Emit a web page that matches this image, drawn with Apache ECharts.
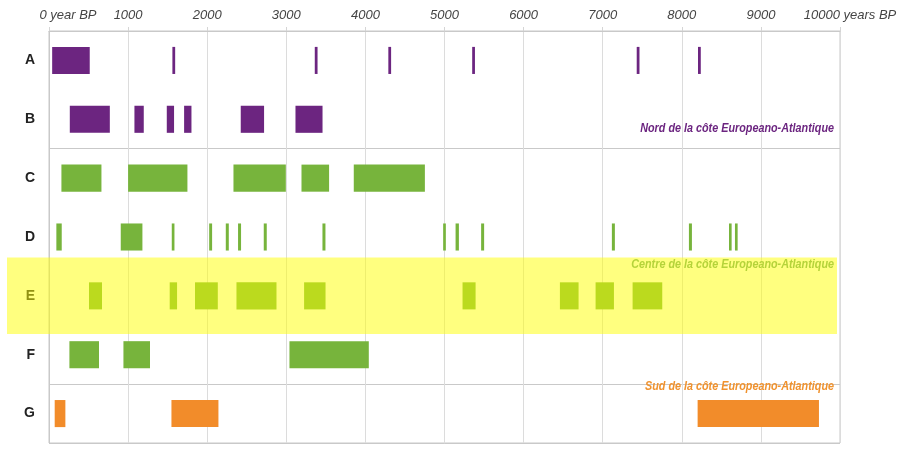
<!DOCTYPE html>
<html>
<head>
<meta charset="utf-8">
<script src="https://cdn.jsdelivr.net/npm/echarts@6/dist/echarts.min.js"></script>
<style>html,body{margin:0;padding:0;background:#fff}#c{width:904px;height:449px}</style>
</head>
<body>
<div id="c"></div>
<script>
// ---- data ----
var rows = ['A', 'B', 'C', 'D', 'E', 'F', 'G'];
var xTickValues = [0, 1000, 2000, 3000, 4000, 5000, 6000, 7000, 8000, 9000, 10000];
var xTickLabels = ['0 year BP', '1000', '2000', '3000', '4000', '5000', '6000', '7000', '8000', '9000', '10000 years BP'];
// periods [start, end] in years BP
var rowA = [[40, 515], [1560, 1595], [3360, 3395], [4290, 4325], [5350, 5385], [7430, 7465], [8205, 8240]];
var rowB = [[263, 769], [1080, 1198], [1489, 1581], [1708, 1801], [2424, 2719], [3116, 3458]];
var rowC = [[157, 663], [1000, 1750], [2332, 2994], [3192, 3541], [3853, 4752]];
var rowD = [[93, 161], [907, 1181], [1552, 1586], [2025, 2062], [2235, 2273], [2390, 2428], [2715, 2753], [3457, 3495], [4983, 5017], [5140, 5182], [5463, 5501], [7116, 7154], [8090, 8128], [8597, 8630], [8672, 8706]];
var rowE = [[506, 670], [1526, 1619], [1846, 2134], [2370, 2876], [3225, 3496], [5228, 5393], [6459, 6695], [6910, 7142], [7378, 7753]];
var rowF = [[258, 632], [941, 1277], [3040, 4043]];
var rowG = [[72, 207], [1548, 2142], [8200, 9734]];
var regionNord = 'Nord de la côte Europeano-Atlantique';
var regionCentre = 'Centre de la côte Europeano-Atlantique';
var regionSud = 'Sud de la côte Europeano-Atlantique';
var highlightRow = 'E';

var purple = '#6c2580', green = '#77b43c', orange = '#f28c2a';
var rowData = [rowA, rowB, rowC, rowD, rowE, rowF, rowG];
var rowColors = [purple, purple, green, green, green, green, orange];

function build(idx) {
  return rowData[idx].map(function (p) { return [p[0], p[1], rows[idx]]; });
}

var series = [];
rowData.forEach(function (r, i) {
  series.push({
    type: 'custom',
    name: rows[i],
    data: build(i),
    encode: { x: [0, 1], y: 2 },
    itemStyle: { color: rowColors[i] },
    z: 2,
    renderItem: function (params, api) {
      var s = api.coord([api.value(0), api.value(2)]);
      var e = api.coord([api.value(1), api.value(2)]);
      var h = api.size([0, 1])[1] * 0.46;
      var w = Math.max(e[0] - s[0], 2.6);
      return {
        type: 'rect',
        shape: { x: s[0], y: s[1] - h / 2, width: w, height: h },
        style: { fill: rowColors[i] }
      };
    }
  });
});

// highlight band for row E
series.push({
  type: 'custom',
  name: 'band',
  data: [[0, 10000, highlightRow]],
  encode: { x: [0, 1], y: 2 },
  clip: false,
  silent: true,
  z: 10,
  renderItem: function (params, api) {
    var s = api.coord([api.value(0), api.value(2)]);
    var e = api.coord([api.value(1), api.value(2)]);
    var h = api.size([0, 1])[1] * 1.3;
    return {
      type: 'rect',
      shape: { x: s[0] - 42, y: s[1] - h / 2, width: (e[0] - 3) - (s[0] - 42), height: h },
      style: { fill: 'rgba(255,255,0,0.5)' }
    };
  }
});

var chart = echarts.init(document.getElementById('c'), null, { renderer: 'canvas' });
var fam = 'Liberation Sans, Arial, sans-serif';
var noteFont = 'italic bold 12px "Liberation Sans", Arial, sans-serif';

function note(text, y, color) {
  return {
    type: 'text', x: 834, y: y, z: 20, scaleX: 0.9, originX: 0, originY: 0,
    style: { text: text, font: noteFont, fill: color, textAlign: 'right', textVerticalAlign: 'middle' }
  };
}

chart.setOption({
  animation: false,
  backgroundColor: '#fff',
  grid: { left: 49, right: 64, top: 31, bottom: 6, show: true, borderColor: '#c9c9c9', borderWidth: 1 },
  xAxis: {
    type: 'value', position: 'top', min: 0, max: 10000, interval: 1000,
    axisLine: { show: true, lineStyle: { color: '#c9c9c9' } },
    axisTick: { show: true, length: 4, lineStyle: { color: '#d5d5d5' } },
    splitLine: { show: true, lineStyle: { color: '#dcdcdc', width: 1 } },
    axisLabel: {
      margin: 9, showMinLabel: true, showMaxLabel: true,
      fontFamily: fam, fontStyle: 'italic', fontSize: 13, color: '#444',
      formatter: function (v) {
        var i = xTickValues.indexOf(v);
        var t = i >= 0 ? xTickLabels[i] : String(v);
        if (i === 0) return '{f|' + t + '}';
        if (i === xTickValues.length - 1) return '{l|' + t + '}';
        return t;
      },
      rich: {
        f: { fontFamily: fam, fontStyle: 'italic', fontSize: 13, color: '#444', padding: [0, 0, 0, 38] },
        l: { fontFamily: fam, fontStyle: 'italic', fontSize: 13, color: '#444', padding: [0, 0, 0, 20] }
      }
    }
  },
  yAxis: {
    type: 'category', data: rows, inverse: true,
    axisLine: { show: true, lineStyle: { color: '#c9c9c9' } },
    axisTick: { show: false },
    axisLabel: { margin: 14, fontFamily: fam, fontWeight: 'bold', fontSize: 14, color: '#222' },
    splitLine: {
      show: true,
      interval: function (i) { return i === 2 || i === 6; },
      lineStyle: { color: '#c9c9c9', width: 1 }
    }
  },
  graphic: [
    note(regionNord, 129, '#6c2580'),
    note(regionCentre, 265, '#b5d33a'),
    note(regionSud, 387, '#f0922e')
  ],
  series: series
});
</script>
</body>
</html>
